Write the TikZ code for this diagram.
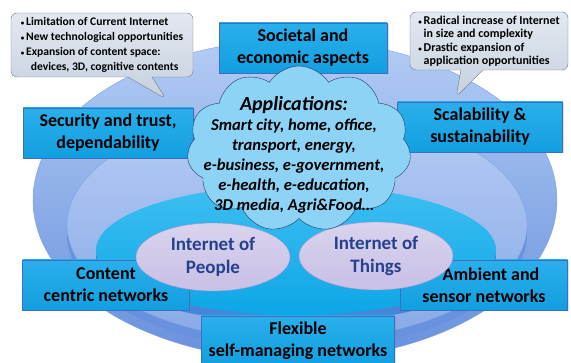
\documentclass[tikz,border=0pt]{standalone}
\usepackage{fontspec}
\setmainfont{Carlito}
\usetikzlibrary{shapes.geometric,shapes.symbols,shapes.callouts,shadows}
\definecolor{outertop}{HTML}{B3CCF4}
\definecolor{outerbot}{HTML}{6890DD}
\definecolor{ringtop}{HTML}{B6CDF4}
\definecolor{ringbot}{HTML}{88A9E8}
\definecolor{ringedge}{HTML}{7FA2E4}
\definecolor{ringband}{HTML}{6A91DD}
\definecolor{coretop}{HTML}{3EBFF1}
\definecolor{corebot}{HTML}{0DA6E7}
\definecolor{coreband}{HTML}{4A84D8}
\definecolor{boxtop}{HTML}{2AAFEB}
\definecolor{boxbot}{HTML}{129FE0}
\definecolor{boxedge}{HTML}{3B6FC6}
\definecolor{lavender}{HTML}{C8C0E6}
\definecolor{lavedge}{HTML}{A097CF}
\definecolor{iottext}{HTML}{25408E}
\definecolor{cloudfill}{HTML}{8DD3F5}
\definecolor{cloudedge}{HTML}{22395A}
\definecolor{notetop}{HTML}{E2E8F0}
\definecolor{notebot}{HTML}{C6D1DF}
\definecolor{noteedge}{HTML}{6E7B8C}
\newcommand\notebullet{{\scriptsize\textbullet}\,}
\begin{document}
\begin{tikzpicture}[x=1pt,y=-1pt,
  topic/.style={draw=boxedge,line width=0.8pt,top color=boxtop,bottom color=boxbot,minimum width=#1,minimum height=50pt,inner sep=2pt,align=center,font=\fontsize{18}{22}\selectfont\bfseries,drop shadow={opacity=0.25,shadow xshift=1.5pt,shadow yshift=-1.5pt}},
  iot/.style={ellipse,draw=lavedge,top color=lavender!70!white,bottom color=lavender,minimum width=154pt,minimum height=68pt,inner sep=0pt,align=center,text=iottext,font=\fontsize{19}{23}\selectfont\bfseries},
  note/.style={rectangle callout,rounded corners=6pt,draw=noteedge,top color=notetop,bottom color=notebot,align=left,inner sep=0pt,font=\bfseries}]
\useasboundingbox (0,0) rectangle (571,363);
% the stacked layers
\shade[top color=outertop,bottom color=outerbot,draw=ringedge] (295,200) ellipse (262 and 160);
\fill[ringband] (297,234) ellipse (230 and 116);
\shade[top color=ringtop,bottom color=ringbot,draw=ringedge] (297,225) ellipse (230 and 116);
\fill[coreband] (296,258) ellipse (200 and 65);
\shade[top color=coretop,bottom color=corebot] (296,250) ellipse (200 and 65);
% topics
\node[topic=168pt] (societal) at (303,48) {Societal and\\economic aspects};
\node[topic=170pt] (security) at (108,133) {Security and trust,\\dependability};
\node[topic=165pt] (scalability) at (480,127) {Scalability \&\\sustainability};
\node[topic=167pt] (content) at (106,285) {Content\\centric networks};
\node[topic=167pt] (ambient) at (484,285) {\hspace*{14pt}Ambient and\\sensor networks};
\node[topic=193pt] (flexible) at (298,341) {Flexible\\self-managing networks};
% inner ellipses
\node[iot] (people) at (213,257) {Internet of\\People};
\node[iot] (things) at (376,256) {Internet of\\Things};
% applications cloud
\node[cloud,cloud puffs=11,cloud puff arc=115,aspect=1.4,draw=cloudedge,fill=cloudfill,minimum width=224pt,minimum height=166pt,inner sep=0pt] (cloudbg) at (299,149) {};
\node[align=center,font=\fontsize{16.6}{20}\selectfont\bfseries\itshape] (apps) at (294,155)
  {{\fontsize{20}{22}\selectfont Applications:}\\Smart city, home, office,\\transport, energy,\\e-business, e-government,\\e-health, e-education,\\3D media, Agri\&Food…};
% callouts
\node[note,minimum width=182pt,minimum height=64pt,callout absolute pointer={(166,99)},callout pointer width=24pt,font=\fontsize{11.6}{15}\selectfont\bfseries] (limits) at (102,45)
  {\notebullet Limitation of Current Internet\\\notebullet New technological opportunities\\\notebullet Expansion of content space:\\\hspace*{10pt}devices, 3D, cognitive contents};
\node[note,minimum width=158pt,minimum height=58pt,callout absolute pointer={(456,97)},callout pointer width=22pt,font=\fontsize{12}{13.5}\selectfont\bfseries] (growth) at (489,41)
  {\notebullet Radical increase of Internet\\\phantom{\notebullet}in size and complexity\\\notebullet Drastic expansion of\\\phantom{\notebullet}application opportunities};
\end{tikzpicture}
\end{document}
